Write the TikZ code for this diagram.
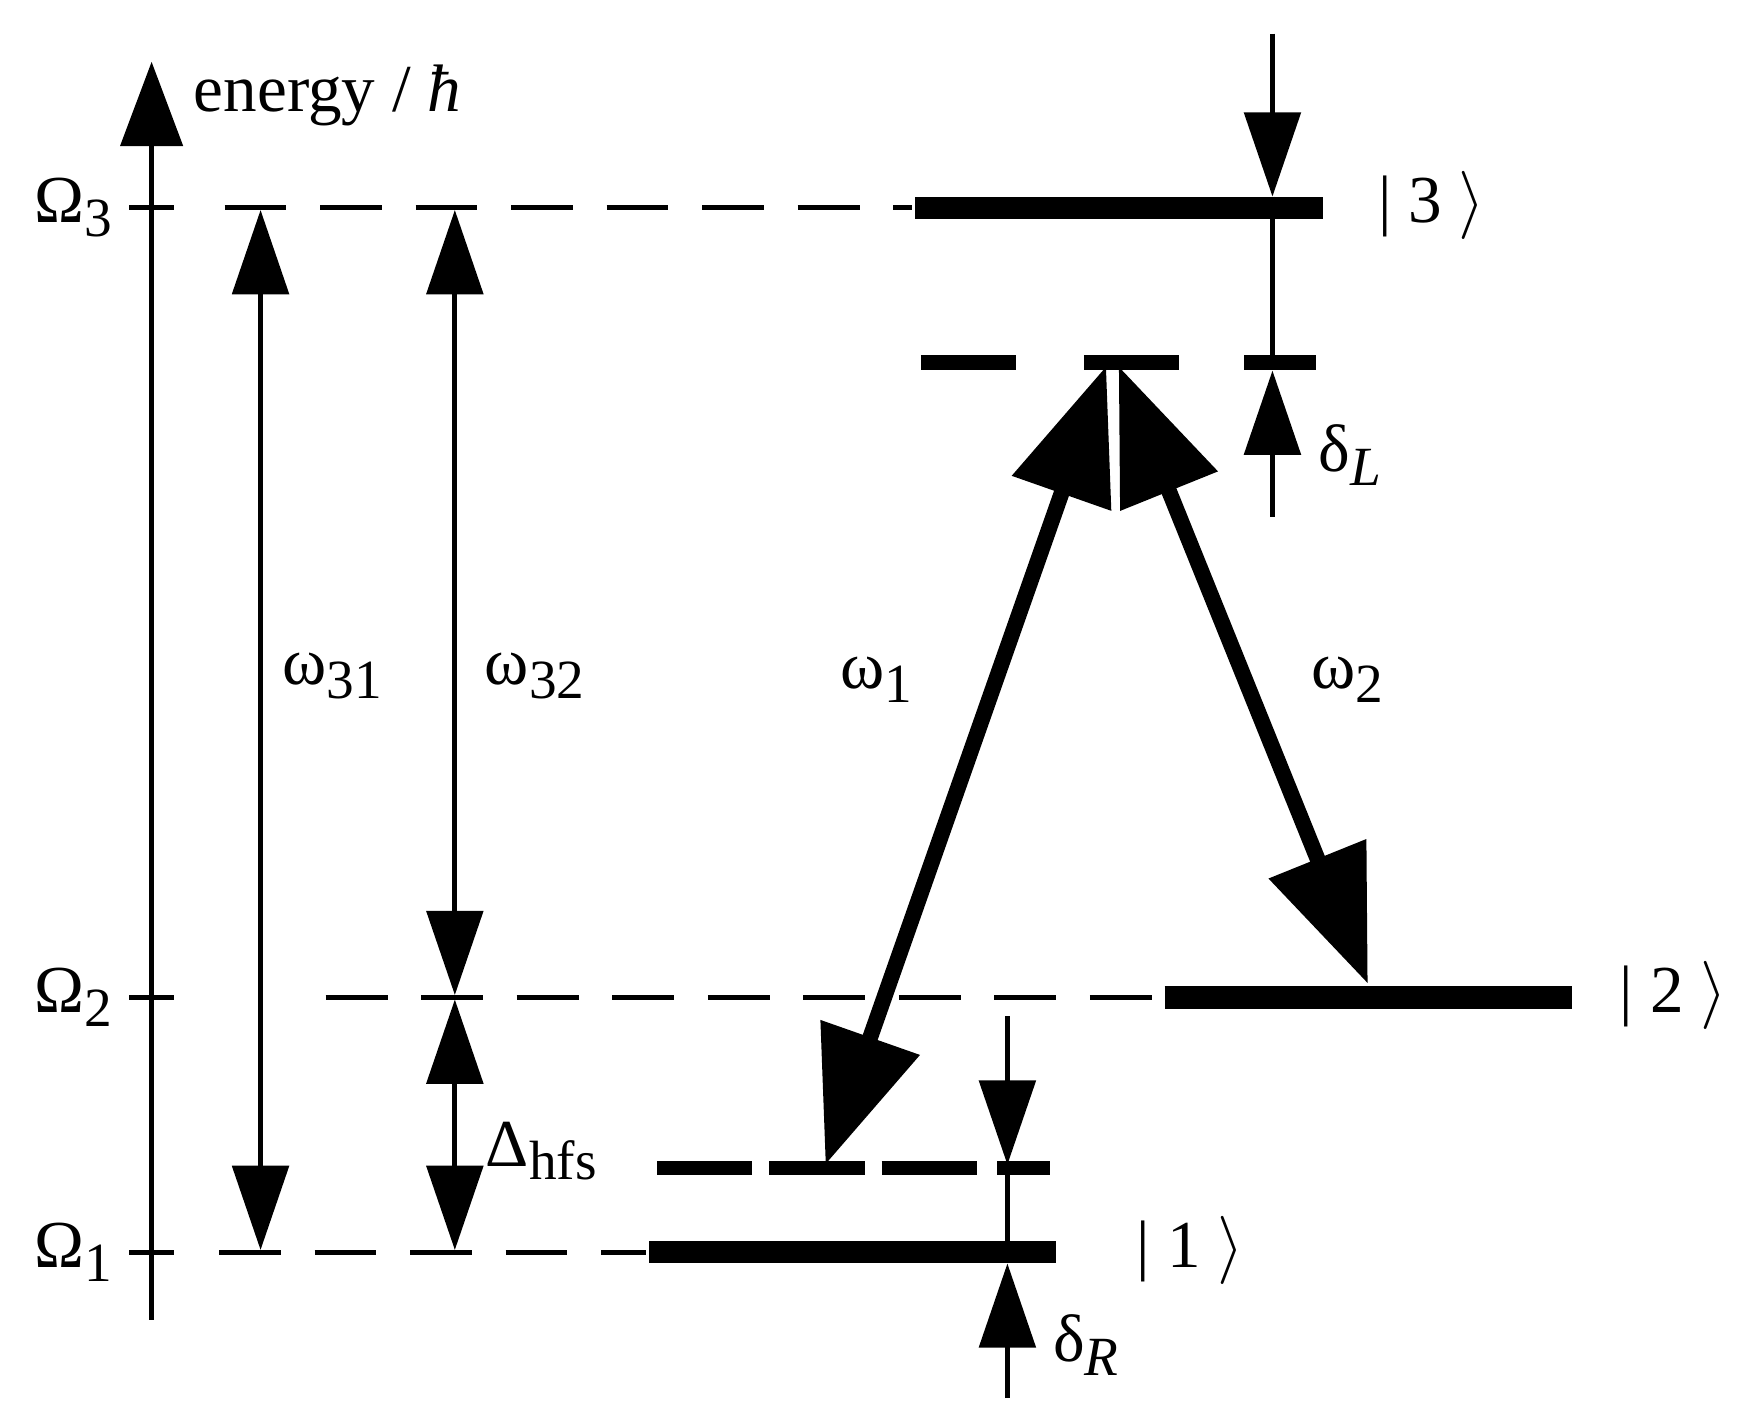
\documentclass[tikz,border=0pt]{standalone}
\usepackage{fontspec}
\setmainfont{Liberation Serif}
\usetikzlibrary{arrows.meta}
\newcommand{\sbs}[1]{\raisebox{-0.45ex}{\fontsize{14}{16}\selectfont #1}}
\begin{document}
\begin{tikzpicture}[x=0.01cm,y=-0.01cm,
  lbl/.style={font=\fontsize{17}{20}\selectfont, inner sep=0pt},
  thin/.style={line width=1.3pt},
  dsh/.style={line width=1.3pt, dash pattern=on 0.55cm off 0.3cm},
  bar/.style={line width=0.2cm},
  vdsh/.style={line width=0.13cm},
  th/.style={thin,-{Triangle[length=0.75cm,width=0.5cm]}},
  tth/.style={thin,{Triangle[length=0.75cm,width=0.5cm]}-{Triangle[length=0.75cm,width=0.5cm]}},
  big/.style={line width=0.14cm,{Triangle[length=1.2cm,width=0.9cm]}-{Triangle[length=1.2cm,width=0.9cm]}}]
\useasboundingbox (0,0) rectangle (1560,1270);
% axis
\coordinate (ax0) at (135,1175); \coordinate (ax1) at (135,55);
\draw[thin,-{Triangle[length=0.75cm,width=0.55cm]}] (ax0) -- (ax1);
\node[lbl,anchor=west] (en) at (172,85) {energy / \textit{ħ}};
% levels
\foreach \n/\y in {3/185,2/888,1/1115}{
  \draw[thin] (115,\y) -- (155,\y);
  \node[lbl] (O\n) at (65,\y) {Ω\sbs{\n}};
}
\draw[dsh] (200,185) -- (812,185);
\draw[bar] (815,185) -- (1178,185);
\node[lbl] (k3) at (1275,183) {| 3 $\rangle$};
\draw[dsh] (290,888) -- (1035,888);
\draw[bar] (1037,888) -- (1400,888);
\node[lbl] (k2) at (1490,886) {| 2 $\rangle$};
\draw[dsh] (195,1115) -- (575,1115);
\draw[bar] (578,1115) -- (940,1115);
\node[lbl] (k1) at (1060,1113) {| 1 $\rangle$};
% virtual levels
\foreach \a/\b in {820/905,965/1050,1108/1172} \draw[vdsh] (\a,323) -- (\b,323);
\foreach \a/\b in {585/670,685/770,785/870,888/935} \draw[vdsh] (\a,1040) -- (\b,1040);
% frequency arrows
\coordinate (a31t) at (232,187); \coordinate (a31b) at (232,1113);
\draw[tth] (a31t) -- (a31b);
\node[lbl] (w31) at (296,602) {ω\sbs{31}};
\coordinate (a32t) at (405,187); \coordinate (a32m) at (405,886);
\draw[tth] (a32t) -- (a32m);
\node[lbl] (w32) at (476,602) {ω\sbs{32}};
\coordinate (ahm) at (405,890); \coordinate (ahb) at (405,1113);
\draw[tth] (ahm) -- (ahb);
\node[lbl] (dhfs) at (482,1025) {Δ\sbs{hfs}};
% detunings
\coordinate (dL0) at (1133,30); \coordinate (dL1) at (1133,175);
\coordinate (dL2) at (1133,460); \coordinate (dL3) at (1133,330);
\draw[th] (dL0) -- (dL1);
\draw[thin] (dL1) -- (1133,323);
\draw[th] (dL2) -- (dL3);
\node[lbl] (dL) at (1202,405) {δ\sbs{\textit{L}}};
\coordinate (dR0) at (897,905); \coordinate (dR1) at (897,1037);
\coordinate (dR2) at (897,1245); \coordinate (dR3) at (897,1125);
\draw[th] (dR0) -- (dR1);
\draw[thin] (dR1) -- (897,1115);
\draw[th] (dR2) -- (dR3);
\node[lbl] (dR) at (967,1198) {δ\sbs{\textit{R}}};
% laser arrows
\coordinate (v1) at (985,326); \coordinate (g1) at (735,1037);
\coordinate (v2) at (996,326); \coordinate (g2) at (1218,876);
\draw[big] (v1) -- (g1);
\draw[big] (v2) -- (g2);
\node[lbl] (w1) at (780,605) {ω\sbs{1}};
\node[lbl] (w2) at (1200,605) {ω\sbs{2}};
\end{tikzpicture}
\end{document}
